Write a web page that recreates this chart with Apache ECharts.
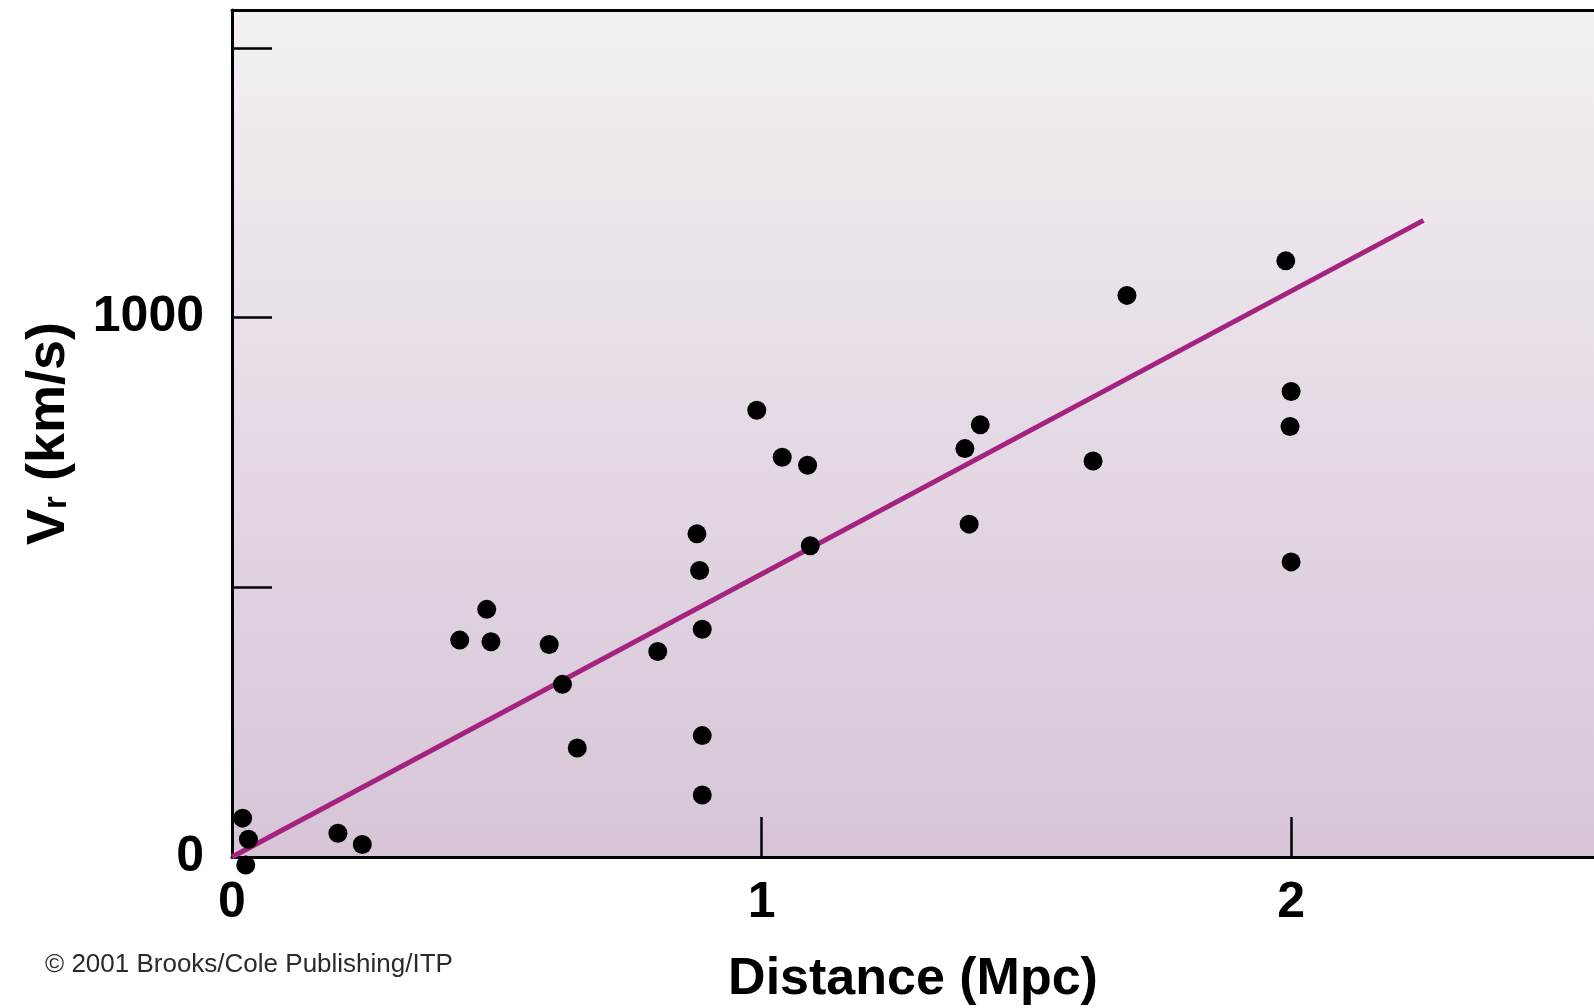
<!DOCTYPE html>
<html>
<head>
<meta charset="utf-8">
<title>Hubble diagram</title>
<script src="https://cdn.jsdelivr.net/npm/echarts@6/dist/echarts.min.js"></script>
<style>
  html, body { margin: 0; padding: 0; background: #fff; }
  #chart { width: 1594px; height: 1008px; }
</style>
</head>
<body>
<div id="chart"></div>
<script>
// distance (Mpc) and radial velocity (km/s) of each galaxy
const distances = [0.02, 0.031, 0.026, 0.20, 0.246, 0.43, 0.481, 0.489, 0.599, 0.624,
  0.652, 0.804, 0.878, 0.883, 0.888, 0.888, 0.888, 0.991, 1.039, 1.087,
  1.092, 1.384, 1.413, 1.392, 1.626, 1.69, 1.99, 2.0, 1.998, 2.0];
const velocities = [72, 33, -15, 44, 23, 402, 459, 399, 394, 320,
  202, 381, 599, 531, 422, 225, 115, 828, 741, 726,
  577, 757, 801, 617, 734, 1041, 1105, 863, 798, 547];

// fitted line ends
const fitDistance = [0, 2.25];
const fitVelocity = [0, 1180];

// ticks and labels
const xTicks = [1, 2];
const xLabels = [0, 1, 2];
const yTicks = [500, 1000, 1500];
const yLabels = [0, 1000];

const points = distances.map((d, i) => [d, velocities[i]]);
const fitLine = fitDistance.map((d, i) => [d, fitVelocity[i]]);

const chart = echarts.init(document.getElementById('chart'));

const labelFont = {
  color: '#000',
  fontFamily: 'Liberation Sans',
  fontWeight: 'bold',
  fontSize: 50,
  formatter: v => String(v)
};

chart.setOption({
  backgroundColor: '#fff',
  animation: false,
  grid: {
    left: 232,
    right: 0,
    top: 10,
    bottom: 151,
    outerBoundsMode: 'none',
    show: true,
    borderWidth: 0,
    backgroundColor: new echarts.graphic.LinearGradient(0, 0, 0, 1, [
      { offset: 0, color: '#f4f0f4' },
      { offset: 0.5, color: '#e4dae5' },
      { offset: 1, color: '#d7c5d7' }
    ])
  },
  xAxis: [
    {
      type: 'value',
      min: 0,
      max: 2.572,
      splitLine: { show: false },
      axisLine: { onZero: false, lineStyle: { color: '#000', width: 3 } },
      axisTick: {
        inside: true,
        length: 40,
        customValues: xTicks,
        lineStyle: { color: '#000', width: 2.5 }
      },
      axisLabel: Object.assign({ margin: 21, customValues: xLabels }, labelFont),
      name: 'Distance (Mpc)',
      nameLocation: 'middle',
      nameGap: 97,
      nameTextStyle: {
        color: '#000',
        fontFamily: 'Liberation Sans',
        fontWeight: 'bold',
        fontSize: 52
      }
    },
    {
      type: 'value',
      position: 'top',
      min: 0,
      max: 1,
      splitLine: { show: false },
      axisLine: { onZero: false, lineStyle: { color: '#000', width: 3 } },
      axisTick: { show: false },
      axisLabel: { show: false }
    }
  ],
  yAxis: {
    type: 'value',
    min: 0,
    max: 1570,
    interval: 500,
    splitLine: { show: false },
    axisLine: { onZero: false, lineStyle: { color: '#000', width: 3 } },
    axisTick: {
      inside: true,
      length: 40,
      customValues: yTicks,
      lineStyle: { color: '#000', width: 2.5 }
    },
    axisLabel: Object.assign({ margin: 28, customValues: yLabels }, labelFont),
    name: '{v|V}{r|r}{v| (km/s)}',
    nameLocation: 'middle',
    nameRotate: 90,
    nameGap: 156,
    nameTextStyle: {
      rich: {
        v: {
          color: '#000',
          fontFamily: 'Liberation Sans',
          fontWeight: 'bold',
          fontSize: 54,
          lineHeight: 54
        },
        r: {
          color: '#000',
          fontFamily: 'Liberation Sans',
          fontWeight: 'bold',
          fontSize: 33,
          lineHeight: 33,
          padding: [15, 0, 0, 0]
        }
      }
    }
  },
  graphic: [
    {
      type: 'text',
      left: 45,
      top: 952,
      style: {
        text: '\u00a9 2001 Brooks/Cole Publishing/ITP',
        fill: '#2a2a2a',
        font: '26px "Liberation Sans"'
      }
    }
  ],
  series: [
    {
      type: 'line',
      data: fitLine,
      symbol: 'none',
      lineStyle: { color: '#a3237f', width: 5 },
      z: 2
    },
    {
      type: 'scatter',
      data: points,
      clip: false,
      symbol: 'circle',
      symbolSize: 19,
      itemStyle: { color: '#000', opacity: 1 },
      z: 3
    }
  ]
});
</script>
</body>
</html>
